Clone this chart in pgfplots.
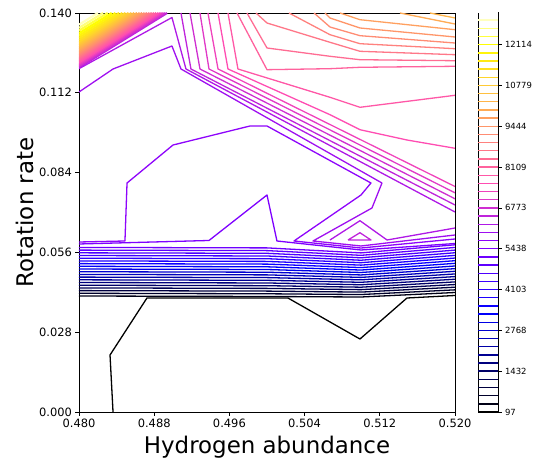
\documentclass[border=0pt]{standalone}
\usepackage{pgfplots}
\pgfplotsset{compat=1.18}
\usepackage{fontspec}
\setmainfont{DejaVu Sans}
\definecolor{c0}{rgb}{0,0,0}
\definecolor{c1}{rgb}{0,0,0.0816}
\definecolor{c2}{rgb}{0,0,0.1633}
\definecolor{c3}{rgb}{0,0,0.2449}
\definecolor{c4}{rgb}{0,0,0.3265}
\definecolor{c5}{rgb}{0,0,0.4082}
\definecolor{c6}{rgb}{0,0,0.4898}
\definecolor{c7}{rgb}{0,0,0.5714}
\definecolor{c8}{rgb}{0,0,0.6531}
\definecolor{c9}{rgb}{0,0,0.7347}
\definecolor{c10}{rgb}{0,0,0.8163}
\definecolor{c11}{rgb}{0,0,0.8980}
\definecolor{c12}{rgb}{0,0,0.9796}
\definecolor{c13}{rgb}{0.0478,0,1}
\definecolor{c14}{rgb}{0.1116,0,1}
\definecolor{c15}{rgb}{0.1754,0,1}
\definecolor{c16}{rgb}{0.2392,0,1}
\definecolor{c17}{rgb}{0.3029,0,1}
\definecolor{c18}{rgb}{0.3667,0,1}
\definecolor{c19}{rgb}{0.4305,0,1}
\definecolor{c20}{rgb}{0.4943,0,1}
\definecolor{c21}{rgb}{0.5580,0.0171,0.9829}
\definecolor{c22}{rgb}{0.6218,0.0580,0.9420}
\definecolor{c23}{rgb}{0.6855,0.0988,0.9012}
\definecolor{c24}{rgb}{0.7494,0.1396,0.8604}
\definecolor{c25}{rgb}{0.8131,0.1804,0.8196}
\definecolor{c26}{rgb}{0.8769,0.2212,0.7788}
\definecolor{c27}{rgb}{0.9406,0.2620,0.7380}
\definecolor{c28}{rgb}{1,0.3029,0.6971}
\definecolor{c29}{rgb}{1,0.3437,0.6563}
\definecolor{c30}{rgb}{1,0.3845,0.6155}
\definecolor{c31}{rgb}{1,0.4253,0.5747}
\definecolor{c32}{rgb}{1,0.4661,0.5339}
\definecolor{c33}{rgb}{1,0.5069,0.4931}
\definecolor{c34}{rgb}{1,0.5478,0.4522}
\definecolor{c35}{rgb}{1,0.5886,0.4114}
\definecolor{c36}{rgb}{1,0.6294,0.3706}
\definecolor{c37}{rgb}{1,0.6702,0.3298}
\definecolor{c38}{rgb}{1,0.7110,0.2890}
\definecolor{c39}{rgb}{1,0.7518,0.2482}
\definecolor{c40}{rgb}{1,0.7927,0.2073}
\definecolor{c41}{rgb}{1,0.8335,0.1665}
\definecolor{c42}{rgb}{1,0.8743,0.1257}
\definecolor{c43}{rgb}{1,0.9151,0.0849}
\definecolor{c44}{rgb}{1,0.9559,0.0441}
\definecolor{c45}{rgb}{1,0.9967,0.0033}
\definecolor{c46}{rgb}{1,1,0.2347}
\definecolor{c47}{rgb}{1,1,0.4898}
\definecolor{c48}{rgb}{1,1,0.7449}
\definecolor{c49}{rgb}{1,1,1}
\newcommand{\cl}[2]{\addplot[c#1, line width=1.3bp, line join=round] coordinates {#2};}
\newcommand{\cf}[2]{\addplot[c#1, line width=2.2bp] coordinates {#2};}
\newcommand{\cb}[2]{\addplot[c#1, line width=1.4bp] coordinates {(0,#2) (1,#2)};}
\begin{document}
\begin{tikzpicture}
\path[use as bounding box] (-79bp,-52bp) rectangle (454bp,412bp);
\begin{axis}[
  at={(0,0)}, anchor=south west,
  scale only axis, width=376bp, height=399bp,
  xmin=0.48, xmax=0.52, ymin=0, ymax=0.14,
  xtick={0.480,0.488,0.496,0.504,0.512,0.520},
  xticklabels={0.480,0.488,0.496,0.504,0.512,0.520},
  ytick={0,0.028,0.056,0.084,0.112,0.140},
  yticklabels={0.000,0.028,0.056,0.084,0.112,0.140},
  scaled x ticks=false, scaled y ticks=false,
  tick align=outside, xtick pos=bottom, ytick pos=left,
  major tick length=3.5bp,
  tick style={black, line width=0.8bp},
  axis line style={black, line width=0.8bp},
  ticklabel style={font=\fontsize{11.5}{13}\selectfont},
  /pgf/number format/assume math mode=true,
  xlabel={Hydrogen abundance}, ylabel={Rotation rate},
  label style={font=\fontsize{23}{27}\selectfont},
  xlabel style={at={(axis description cs:0.5,-0.0877)}, anchor=center},
  ylabel style={at={(axis description cs:-0.1436,0.5)}, anchor=center},
  clip=true,
]
% top-left fan
\cf{24}{(0.48,0.12089) (0.48936,0.14)}
\cf{25}{(0.48,0.12134) (0.48914,0.14)}
\cf{26}{(0.48,0.12179) (0.48892,0.14)}
\cf{27}{(0.48,0.12225) (0.48870,0.14)}
\cf{28}{(0.48,0.12272) (0.48847,0.14)}
\cf{29}{(0.48,0.12319) (0.48823,0.14)}
\cf{30}{(0.48,0.12368) (0.48800,0.14)}
\cf{31}{(0.48,0.12417) (0.48775,0.14)}
\cf{32}{(0.48,0.12468) (0.48751,0.14)}
\cf{33}{(0.48,0.12519) (0.48725,0.14)}
\cf{34}{(0.48,0.12572) (0.48699,0.14)}
\cf{35}{(0.48,0.12626) (0.48673,0.14)}
\cf{36}{(0.48,0.12682) (0.48646,0.14)}
\cf{37}{(0.48,0.12739) (0.48618,0.14)}
\cf{38}{(0.48,0.12798) (0.48589,0.14)}
\cf{39}{(0.48,0.12860) (0.48559,0.14)}
\cf{40}{(0.48,0.12923) (0.48528,0.14)}
\cf{41}{(0.48,0.12989) (0.48495,0.14)}
\cf{42}{(0.48,0.13058) (0.48462,0.14)}
\cf{43}{(0.48,0.13131) (0.48426,0.14)}
\cf{44}{(0.48,0.13207) (0.48388,0.14)}
\cf{45}{(0.48,0.13289) (0.48348,0.14)}
\cf{46}{(0.48,0.13379) (0.48305,0.14)}
\cf{47}{(0.48,0.13477) (0.48256,0.14)}
\cf{48}{(0.48,0.13590) (0.48201,0.14)}
% lowest contour
\cl{0}{(0.48362,0) (0.48330,0.02) (0.48723,0.04) (0.50223,0.04) (0.50989,0.02561) (0.51489,0.04) (0.52,0.04088)}
% band
\cl{1}{(0.48,0.04070) (0.5,0.04053) (0.51,0.04035) (0.52,0.04193)}
\cl{2}{(0.48,0.04165) (0.5,0.04148) (0.51,0.04121) (0.52,0.04286)}
\cl{3}{(0.48,0.04259) (0.5,0.04242) (0.51,0.04207) (0.52,0.04379)}
\cl{4}{(0.48,0.04354) (0.5,0.04337) (0.51,0.04293) (0.52,0.04472)}
\cl{5}{(0.48,0.04449) (0.5,0.04432) (0.51,0.04379) (0.52,0.04565)}
\cl{6}{(0.48,0.04544) (0.5,0.04527) (0.51,0.04465) (0.52,0.04658)}
\cl{7}{(0.48,0.04638) (0.5,0.04621) (0.51,0.04551) (0.52,0.04751)}
\cl{8}{(0.48,0.04733) (0.5,0.04716) (0.51,0.04637) (0.52,0.04844)}
\cl{9}{(0.48,0.04828) (0.5,0.04811) (0.51,0.04723) (0.52,0.04937)}
\cl{10}{(0.48,0.04922) (0.5,0.04905) (0.51,0.04809) (0.52,0.05030)}
\cl{11}{(0.48,0.05017) (0.5,0.05000) (0.51,0.04895) (0.52,0.05123)}
\cl{12}{(0.48,0.05112) (0.5,0.05095) (0.51,0.04981) (0.52,0.05216)}
\cl{13}{(0.48,0.05206) (0.5,0.05189) (0.51,0.05067) (0.52,0.05309)}
\cl{14}{(0.48,0.05301) (0.5,0.05284) (0.51,0.05153) (0.52,0.05402)}
\cl{15}{(0.48,0.05396) (0.5,0.05379) (0.51,0.05239) (0.52,0.05495)}
\cl{16}{(0.48,0.05491) (0.5,0.05474) (0.51,0.05325) (0.52,0.05588)}
\cl{17}{(0.48,0.05585) (0.5,0.05568) (0.51,0.05411) (0.52,0.05681)}
\cl{18}{(0.48,0.05680) (0.5,0.05663) (0.51,0.05497) (0.52,0.05774)}
\cl{19}{(0.48,0.05775) (0.5,0.05758) (0.51,0.05583) (0.52,0.05867)}
\cl{20}{(0.48,0.05895) (0.49383,0.06018) (0.5,0.07614) (0.50106,0.06) (0.51,0.05684) (0.52,0.05912)}
\cl{21}{(0.48,0.05965) (0.48489,0.06) (0.48511,0.08035) (0.49,0.09368) (0.49819,0.10035) (0.5,0.10035) (0.51106,0.08035) (0.51,0.07614) (0.50287,0.06) (0.51,0.05754) (0.52,0.0607)}
\cl{22}{(0.48,0.11228) (0.48362,0.12035) (0.48989,0.12842) (0.49085,0.12035) (0.51223,0.08035) (0.51117,0.07158) (0.50489,0.06) (0.51,0.05825) (0.52,0.06211)}
\cl{23}{(0.48,0.12046) (0.48989,0.13842) (0.49138,0.12035) (0.52,0.07018)}
\cl{23}{(0.5067,0.06035) (0.50989,0.06712) (0.51277,0.06035) (0.52,0.06456)}
\cl{24}{(0.50862,0.06035) (0.50989,0.06291) (0.51106,0.06035) (0.50862,0.06035)}
% diagonal bundle and top-right lines
\cl{24}{(0.49085,0.14) (0.49191,0.12035) (0.52,0.07263)}
\cl{25}{(0.49181,0.14) (0.49287,0.12035) (0.52,0.07481)}
\cl{26}{(0.49287,0.14) (0.49383,0.12035) (0.52,0.07691)}
\cl{27}{(0.49372,0.14) (0.49479,0.12035) (0.52,0.07912)}
\cl{28}{(0.49479,0.14) (0.49585,0.12035) (0.5067,0.10432) (0.50989,0.09905) (0.51489,0.09544) (0.52,0.09253)}
\cl{29}{(0.49585,0.14) (0.49691,0.12035) (0.5067,0.11042) (0.50989,0.10691) (0.52,0.11112)}
\cl{30}{(0.49681,0.14) (0.5,0.12011) (0.5067,0.12046) (0.50989,0.12095) (0.52,0.1213)}
\cl{31}{(0.49787,0.14) (0.5,0.12772) (0.5067,0.12481) (0.50989,0.12361) (0.52,0.12326)}
\cl{32}{(0.49883,0.14) (0.5,0.13649) (0.5067,0.12972) (0.50989,0.12656) (0.52,0.12537)}
\cl{33}{(0.50234,0.14) (0.5067,0.13239) (0.50989,0.12923) (0.52,0.12747)}
\cl{34}{(0.50500,0.14) (0.5067,0.13509) (0.50989,0.13204) (0.52,0.12947)}
\cl{35}{(0.50617,0.14) (0.5067,0.13825) (0.50989,0.13474) (0.52,0.13158)}
\cl{36}{(0.50777,0.14) (0.50989,0.13765) (0.52,0.13414)}
\cl{37}{(0.51415,0.14) (0.52,0.13614)}
\cl{38}{(0.51734,0.14) (0.52,0.13825)}
\end{axis}
\begin{axis}[
  at={(399bp,0)}, anchor=south west,
  scale only axis, width=20bp, height=400bp,
  xmin=0, xmax=1, ymin=97, ymax=13182,
  xtick=\empty,
  ytick={97,1432.2,2767.4,4102.6,5437.8,6773,8108.2,9443.4,10778.6,12113.8},
  yticklabels={97,1432,2768,4103,5438,6773,8109,9444,10779,12114},
  scaled y ticks=false,
  yticklabel pos=right, ytick pos=right,
  tick align=outside, major tick length=3.5bp,
  tick style={black, line width=0.8bp},
  axis line style={black, line width=0.8bp},
  ticklabel style={font=\fontsize{8.5}{10}\selectfont},
  /pgf/number format/assume math mode=true,
  clip=true,
]
\cb{0}{97}\cb{1}{364}\cb{2}{631}\cb{3}{898}\cb{4}{1165}
\cb{5}{1432}\cb{6}{1699}\cb{7}{1966}\cb{8}{2233}\cb{9}{2500}
\cb{10}{2767}\cb{11}{3034}\cb{12}{3301}\cb{13}{3568}\cb{14}{3836}
\cb{15}{4103}\cb{16}{4370}\cb{17}{4637}\cb{18}{4904}\cb{19}{5171}
\cb{20}{5438}\cb{21}{5705}\cb{22}{5972}\cb{23}{6239}\cb{24}{6506}
\cb{25}{6773}\cb{26}{7040}\cb{27}{7307}\cb{28}{7574}\cb{29}{7841}
\cb{30}{8108}\cb{31}{8375}\cb{32}{8642}\cb{33}{8909}\cb{34}{9176}
\cb{35}{9443}\cb{36}{9710}\cb{37}{9977}\cb{38}{10245}\cb{39}{10512}
\cb{40}{10779}\cb{41}{11046}\cb{42}{11313}\cb{43}{11580}\cb{44}{11847}
\cb{45}{12114}\cb{46}{12381}\cb{47}{12648}\cb{48}{12915}\cb{49}{13182}
\end{axis}
\end{tikzpicture}
\end{document}
